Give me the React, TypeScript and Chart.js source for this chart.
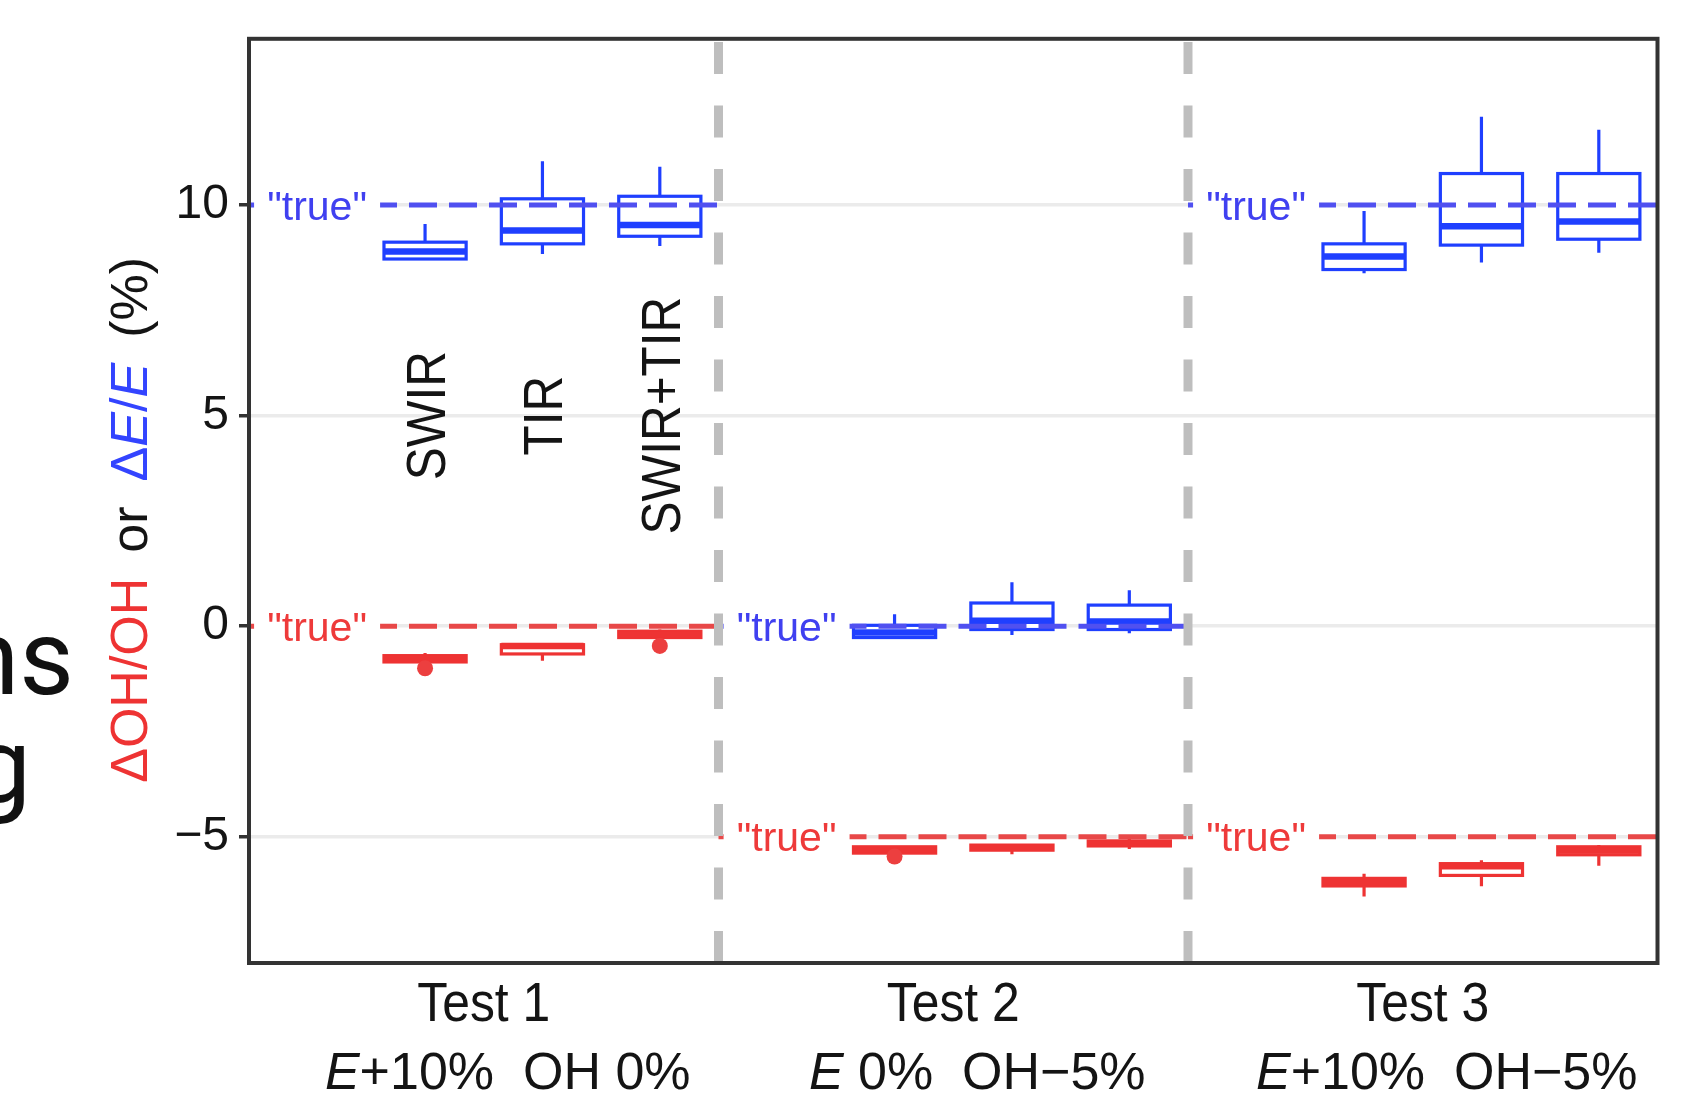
import React, { useEffect, useRef } from 'react';
import { Chart, registerables } from 'chart.js';

Chart.register(...registerables);

const FONT = "'Liberation Sans', Arial, Helvetica, sans-serif";

// ---- data ----
const tests = ['Test 1', 'Test 2', 'Test 3'];
const conditionItalic = ['E', 'E', 'E'];
const conditionRest = ['+10%  OH 0%', ' 0%  OH\u22125%', '+10%  OH\u22125%'];
const methods = ['SWIR', 'TIR', 'SWIR+TIR'];
const yTicks = [-5, 0, 5, 10];
const yMin = -8;
const yMax = 13.95;
const trueE = [10, 0, 10];
const trueOH = [0, -5, -5];

// [lower whisker, Q1, median, Q3, upper whisker] for SWIR, TIR, SWIR+TIR
const eTest1 = [[8.70, 8.72, 8.90, 9.12, 9.55], [8.84, 9.08, 9.40, 10.15, 11.04], [9.03, 9.26, 9.53, 10.21, 10.91]];
const eTest2 = [[-0.29, -0.27, -0.15, 0.02, 0.28], [-0.21, -0.08, 0.13, 0.55, 1.04], [-0.17, -0.08, 0.11, 0.50, 0.85]];
const eTest3 = [[8.38, 8.47, 8.78, 9.08, 9.86], [8.64, 9.05, 9.50, 10.75, 12.10], [8.87, 9.19, 9.61, 10.75, 11.79]];
const ohTest1 = [[-0.86, -0.85, -0.78, -0.70, -0.64], [-0.82, -0.66, -0.47, -0.44, -0.42], [-0.30, -0.27, -0.20, -0.12, -0.08]];
const ohTest2 = [[-5.40, -5.39, -5.30, -5.24, -5.22], [-5.42, -5.32, -5.26, -5.20, -5.18], [-5.29, -5.22, -5.16, -5.10, -5.04]];
const ohTest3 = [[-6.42, -6.17, -6.08, -5.99, -5.88], [-6.18, -5.92, -5.70, -5.64, -5.56], [-5.69, -5.43, -5.33, -5.24, -5.20]];
const ohOutliers1 = [[-1.0], [], [-0.47]];
const ohOutliers2 = [[-5.47], [], []];
const ohOutliers3 = [[], [], []];

const eBoxes = [eTest1, eTest2, eTest3];
const ohBoxes = [ohTest1, ohTest2, ohTest3];
const ohOutliers = [ohOutliers1, ohOutliers2, ohOutliers3];

// ---- style / layout ----
const SEG = 4; // x units per test section
const FIRST = 1.5; // first method position inside a section
const BOX_HALF = 0.35;
const LABEL_X = 0.58;
const METHOD_LABEL_Y = 5;

const BLUE_BOX = '#1F3FFF';
const BLUE_DASH = '#5050F0';
const BLUE_TEXT = '#4040F0';
const RED_BOX = '#EE3333';
const RED_DASH = '#E84848';
const RED_TEXT = '#EE3A3A';
const INK = '#141414';

const methodX = (t: number, m: number) => t * SEG + FIRST + m;

function drawBox(ctx: CanvasRenderingContext2D, x: any, y: any, xc: number, b: number[], color: string) {
  const [lo, q1, med, q3, hi] = b;
  const xl = x.getPixelForValue(xc - BOX_HALF);
  const xr = x.getPixelForValue(xc + BOX_HALF);
  const xm = x.getPixelForValue(xc);
  const yq1 = y.getPixelForValue(q1);
  const yq3 = y.getPixelForValue(q3);
  const ym = y.getPixelForValue(med);
  ctx.strokeStyle = color;
  ctx.lineCap = 'butt';
  ctx.lineWidth = 3.2;
  ctx.beginPath();
  ctx.moveTo(xm, y.getPixelForValue(hi));
  ctx.lineTo(xm, yq3);
  ctx.moveTo(xm, yq1);
  ctx.lineTo(xm, y.getPixelForValue(lo));
  ctx.stroke();
  ctx.fillStyle = '#ffffff';
  ctx.fillRect(xl, yq3, xr - xl, yq1 - yq3);
  ctx.strokeRect(xl, yq3, xr - xl, yq1 - yq3);
  ctx.lineWidth = 6.5;
  ctx.beginPath();
  ctx.moveTo(xl, ym);
  ctx.lineTo(xr, ym);
  ctx.stroke();
}

type Seg = { text?: string; color?: string; italic?: boolean; gap?: number };

function segFont(size: number, italic?: boolean) {
  return `${italic ? 'italic' : 'normal'} normal 400 ${size}px ${FONT}`;
}

function measureSegs(ctx: CanvasRenderingContext2D, segs: Seg[], size: number) {
  let w = 0;
  segs.forEach((s) => {
    if (s.gap) { w += s.gap; return; }
    ctx.font = segFont(size, s.italic);
    w += ctx.measureText(s.text || '').width;
  });
  return w;
}

function drawSegs(ctx: CanvasRenderingContext2D, segs: Seg[], size: number, startX: number, baseY: number) {
  let cx = startX;
  ctx.textAlign = 'left';
  ctx.textBaseline = 'alphabetic';
  segs.forEach((s) => {
    if (s.gap) { cx += s.gap; return; }
    ctx.font = segFont(size, s.italic);
    ctx.fillStyle = s.color || INK;
    ctx.fillText(s.text || '', cx, baseY);
    cx += ctx.measureText(s.text || '').width;
  });
}

const figurePlugin = {
  id: 'figure',
  beforeDatasetsDraw(chart: any) {
    const { ctx, chartArea, scales } = chart;
    const x = scales.x;
    const y = scales.y;
    ctx.save();
    ctx.beginPath();
    ctx.rect(chartArea.left, chartArea.top, chartArea.right - chartArea.left, chartArea.bottom - chartArea.top);
    ctx.clip();
    eBoxes.forEach((tb, t) => tb.forEach((b, m) => drawBox(ctx, x, y, methodX(t, m), b, BLUE_BOX)));
    ohBoxes.forEach((tb, t) => tb.forEach((b, m) => drawBox(ctx, x, y, methodX(t, m), b, RED_BOX)));
    ctx.restore();
  },
  afterDatasetsDraw(chart: any) {
    const { ctx, scales } = chart;
    const x = scales.x;
    const y = scales.y;
    ctx.save();
    // "true" labels with white background
    const drawTrue = (t: number, v: number, color: string) => {
      const cx = x.getPixelForValue(t * SEG + LABEL_X);
      const cy = y.getPixelForValue(v);
      ctx.fillStyle = '#ffffff';
      ctx.fillRect(cx - 63, cy - 24, 126, 48);
      ctx.font = `41px ${FONT}`;
      ctx.fillStyle = color;
      ctx.textAlign = 'center';
      ctx.textBaseline = 'alphabetic';
      ctx.fillText('"true"', cx, cy + 14.5);
    };
    tests.forEach((_, t) => {
      drawTrue(t, trueE[t], BLUE_TEXT);
      drawTrue(t, trueOH[t], RED_TEXT);
    });
    // method labels (first test only)
    methods.forEach((label, m) => {
      const px = x.getPixelForValue(methodX(0, m));
      const py = y.getPixelForValue(METHOD_LABEL_Y);
      ctx.save();
      ctx.translate(px, py);
      ctx.rotate(-Math.PI / 2);
      ctx.scale(0.9, 1);
      ctx.font = `55px ${FONT}`;
      ctx.fillStyle = INK;
      ctx.textAlign = 'center';
      ctx.textBaseline = 'alphabetic';
      ctx.fillText(label, 0, 19.7);
      ctx.restore();
    });
    ctx.restore();
  },
  afterDraw(chart: any) {
    const { ctx, chartArea, scales } = chart;
    const x = scales.x;
    ctx.save();
    // panel border
    ctx.strokeStyle = '#333333';
    ctx.lineWidth = 4;
    ctx.strokeRect(chartArea.left, chartArea.top, chartArea.right - chartArea.left, chartArea.bottom - chartArea.top);

    // y title (rotated, multi-coloured)
    const titleSegs: Seg[] = [
      { text: '\u0394OH/OH', color: RED_BOX },
      { gap: 25 },
      { text: 'or', color: INK },
      { gap: 25 },
      { text: '\u0394', color: '#3344FF' },
      { text: 'E', color: '#3344FF', italic: true },
      { text: '/', color: '#3344FF' },
      { text: 'E', color: '#3344FF', italic: true },
      { gap: 25 },
      { text: '(%)', color: INK },
    ];
    const tSize = 52;
    const tw = measureSegs(ctx, titleSegs, tSize);
    ctx.save();
    ctx.translate(147, (chartArea.top + chartArea.bottom) / 2 + 19);
    ctx.rotate(-Math.PI / 2);
    drawSegs(ctx, titleSegs, tSize, -tw / 2, 0);
    ctx.restore();

    // x labels
    tests.forEach((name, t) => {
      const cx = x.getPixelForValue(t * SEG + SEG / 2);
      ctx.save();
      ctx.translate(cx, chartArea.bottom + 58);
      ctx.scale(0.89, 1);
      ctx.font = `56px ${FONT}`;
      ctx.fillStyle = INK;
      ctx.textAlign = 'center';
      ctx.textBaseline = 'alphabetic';
      ctx.fillText(name, 0, 0);
      ctx.restore();
      const segs: Seg[] = [
        { text: conditionItalic[t], italic: true, color: INK },
        { text: conditionRest[t], color: INK },
      ];
      const w = measureSegs(ctx, segs, 52);
      drawSegs(ctx, segs, 52, cx + 24 - w / 2, chartArea.bottom + 126);
    });

    // remnants of slide text at the far left
    ctx.font = `normal normal 400 106px Roboto, 'Open Sans', sans-serif`;
    ctx.fillStyle = '#111111';
    ctx.textAlign = 'right';
    ctx.textBaseline = 'alphabetic';
    ctx.fillText('ns', 74, 694);
    ctx.fillText('g', 31, 802);
    ctx.restore();
  },
};

export default function App() {
  const canvasRef = useRef<HTMLCanvasElement | null>(null);

  useEffect(() => {
    const canvas = canvasRef.current;
    if (!canvas) return;

    const datasets: any[] = [];
    tests.forEach((_, t) => {
      datasets.push({
        type: 'line',
        data: [{ x: t * SEG, y: trueE[t] }, { x: (t + 1) * SEG, y: trueE[t] }],
        borderColor: BLUE_DASH,
        borderWidth: 5,
        borderDash: [28, 12],
        pointRadius: 0,
        order: 3,
      });
      datasets.push({
        type: 'line',
        data: [{ x: t * SEG, y: trueOH[t] }, { x: (t + 1) * SEG, y: trueOH[t] }],
        borderColor: RED_DASH,
        borderWidth: 5,
        borderDash: [28, 12],
        pointRadius: 0,
        order: 3,
      });
    });
    for (let i = 1; i < tests.length; i++) {
      datasets.push({
        type: 'line',
        data: [{ x: i * SEG, y: yMin }, { x: i * SEG, y: yMax }],
        borderColor: '#BEBEBE',
        borderWidth: 9,
        borderDash: [32, 31.5],
        pointRadius: 0,
        order: 2,
      });
    }
    const outlierPoints: { x: number; y: number }[] = [];
    ohOutliers.forEach((to, t) => to.forEach((vals, m) => vals.forEach((v) => outlierPoints.push({ x: methodX(t, m), y: v }))));
    datasets.push({
      type: 'scatter',
      data: outlierPoints,
      pointRadius: 8,
      pointBackgroundColor: '#EC3F3F',
      pointBorderWidth: 0,
      order: 1,
    });

    const chart = new Chart(canvas, {
      type: 'scatter',
      data: { datasets },
      options: {
        animation: false,
        responsive: false,
        devicePixelRatio: 1,
        events: [],
        layout: { padding: { left: 0, top: 35, right: 42.5, bottom: 0 } },
        plugins: {
          legend: { display: false },
          tooltip: { enabled: false },
          title: { display: false },
        },
        scales: {
          x: {
            type: 'linear',
            min: 0,
            max: tests.length * SEG,
            ticks: { display: false },
            grid: { display: false, drawTicks: false },
            border: { display: false },
            afterFit: (s: any) => { s.height = 132; },
          },
          y: {
            type: 'linear',
            min: yMin,
            max: yMax,
            afterBuildTicks: (s: any) => { s.ticks = yTicks.map((v) => ({ value: v })); },
            ticks: {
              font: { family: FONT, size: 48 },
              color: INK,
              padding: 10,
              callback: (v: any) => (Number(v) < 0 ? '\u2212' + Math.abs(Number(v)) : String(v)),
            },
            grid: {
              color: '#EBEBEB',
              lineWidth: 3.5,
              drawTicks: true,
              tickLength: 10,
              tickColor: '#333333',
              tickWidth: 3.5,
            },
            border: { display: false },
            afterFit: (s: any) => { s.width = 249; },
          },
        },
      } as any,
      plugins: [figurePlugin],
    });

    return () => chart.destroy();
  }, []);

  return (
    <div style={{ position: 'fixed', left: 0, top: 0, width: 1700, height: 1095, background: '#ffffff' }}>
      <canvas ref={canvasRef} width={1700} height={1095} style={{ display: 'block' }} />
    </div>
  );
}
